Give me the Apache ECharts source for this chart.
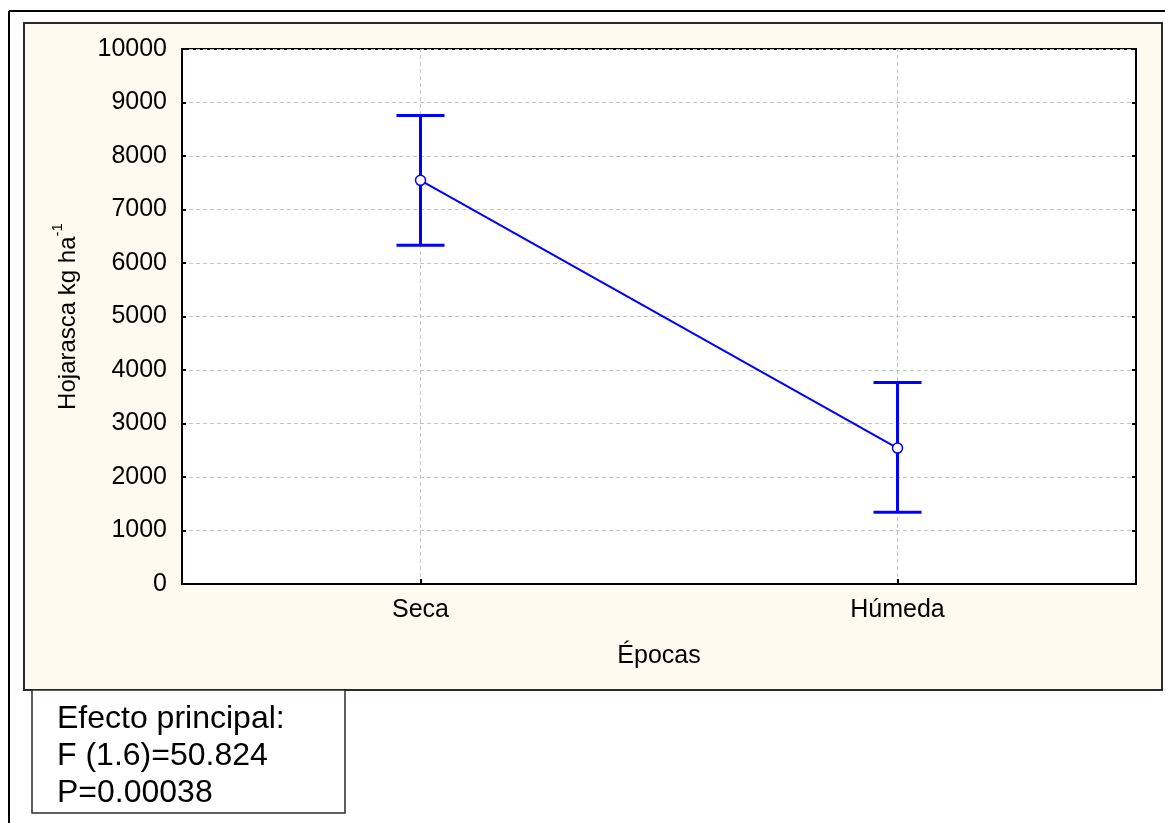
<!DOCTYPE html>
<html>
<head>
<meta charset="utf-8">
<script src="https://cdn.jsdelivr.net/npm/echarts@6/dist/echarts.min.js"></script>
<style>
html,body{margin:0;padding:0;background:#ffffff;}
#chart{width:1165px;height:823px;}
</style>
</head>
<body>
<div id="chart"></div>
<script>
var categories = ['Seca', 'Húmeda'];
var means = [7545, 2540];
var upper = [8755, 3765];
var lower = [6330, 1340];
var yTicks = [0, 10000, 1000];
var xAxisName = 'Épocas';
var yAxisName = 'Hojarasca kg ha';
var yAxisSup = '-1';
var noteLines = ['Efecto principal:', 'F (1.6)=50.824', 'P=0.00038'];

var FONT = '"Liberation Sans", Arial, sans-serif';
var BLUE = '#0000ff';

var errData = categories.map(function (c, i) { return [i, lower[i], upper[i]]; });

var chart = echarts.init(document.getElementById('chart'), null, {renderer: 'canvas'});

var graphics = [
  {type: 'line', shape: {x1: 9, y1: 11, x2: 1165, y2: 11}, style: {stroke: '#000', lineWidth: 2}, z: -10},
  {type: 'line', shape: {x1: 9, y1: 11, x2: 9, y2: 823}, style: {stroke: '#000', lineWidth: 2}, z: -10},
  {type: 'rect', shape: {x: 24, y: 23, width: 1138, height: 667}, style: {fill: '#fffaef', stroke: '#2a2a2a', lineWidth: 2}, z: -10},
  {type: 'rect', shape: {x: 32, y: 690, width: 313, height: 123}, style: {fill: '#ffffff', stroke: '#2a2a2a', lineWidth: 1.5}, z: 10}
];
noteLines.forEach(function (t, i) {
  graphics.push({
    type: 'text', left: 57, top: 703 + i * 37, z: 11,
    style: {text: t, font: '32px ' + FONT, fill: '#000'}
  });
});

chart.setOption({
  animation: false,
  backgroundColor: '#ffffff',
  graphic: graphics,
  grid: {
    left: 182, right: 29, top: 49, bottom: 239,
    show: true, backgroundColor: '#ffffff', borderColor: '#000', borderWidth: 2
  },
  xAxis: {
    type: 'category',
    data: categories,
    boundaryGap: true,
    name: xAxisName,
    nameLocation: 'middle',
    nameGap: 60,
    nameTextStyle: {fontFamily: FONT, fontSize: 25, color: '#000'},
    axisLine: {show: true, lineStyle: {color: '#000', width: 2}},
    axisTick: {show: true, alignWithLabel: true, inside: true, length: 5, lineStyle: {color: '#000', width: 2}},
    axisLabel: {fontFamily: FONT, fontSize: 25, color: '#000', margin: 14},
    splitLine: {show: false}
  },
  yAxis: [{
    type: 'value',
    min: yTicks[0], max: yTicks[1], interval: yTicks[2],
    name: '{a|' + yAxisName + '}{s|' + yAxisSup + '}',
    nameLocation: 'middle',
    nameGap: 102,
    nameRotate: 90,
    nameTextStyle: {
      color: '#000',
      rich: {
        a: {fontFamily: FONT, fontSize: 24, color: '#000', lineHeight: 30, verticalAlign: 'bottom'},
        s: {fontFamily: FONT, fontSize: 15, color: '#000', lineHeight: 30, verticalAlign: 'top'}
      }
    },
    axisLine: {show: true, lineStyle: {color: '#000', width: 2}},
    axisTick: {show: true, inside: true, length: 4, lineStyle: {color: '#000', width: 2}},
    axisLabel: {fontFamily: FONT, fontSize: 25, color: '#000', margin: 15, formatter: function (v) { return String(v); }},
    splitLine: {show: true, lineStyle: {color: '#c4c4c4', width: 1, type: [4, 3]}}
  }, {
    type: 'value',
    position: 'right',
    min: yTicks[0], max: yTicks[1], interval: yTicks[2],
    axisLine: {show: true, lineStyle: {color: '#000', width: 2}},
    axisTick: {show: true, inside: true, length: 4, lineStyle: {color: '#000', width: 2}},
    axisLabel: {show: false},
    splitLine: {show: false}
  }],
  series: [
    {
      type: 'line',
      data: [],
      z: 0,
      silent: true,
      markLine: {
        silent: true,
        z: 0,
        symbol: 'none',
        label: {show: false},
        lineStyle: {color: '#c4c4c4', width: 1, type: [4, 3]},
        data: categories.map(function (c) { return {xAxis: c}; })
      }
    },
    {
      type: 'custom',
      z: 20,
      data: errData,
      encode: {x: 0, y: [1, 2]},
      renderItem: function (params, api) {
        var x = api.value(0);
        var lo = api.coord([x, api.value(1)]);
        var hi = api.coord([x, api.value(2)]);
        var hw = 24;
        var st = {stroke: BLUE, lineWidth: 3};
        return {
          type: 'group',
          children: [
            {type: 'line', shape: {x1: lo[0], y1: lo[1], x2: hi[0], y2: hi[1]}, style: st},
            {type: 'line', shape: {x1: hi[0] - hw, y1: hi[1], x2: hi[0] + hw, y2: hi[1]}, style: st},
            {type: 'line', shape: {x1: lo[0] - hw, y1: lo[1], x2: lo[0] + hw, y2: lo[1]}, style: st}
          ]
        };
      }
    },
    {
      type: 'line',
      z: 30,
      data: means,
      symbol: 'circle',
      symbolSize: 10,
      showAllSymbol: true,
      lineStyle: {color: BLUE, width: 2},
      itemStyle: {color: '#ffffff', borderColor: BLUE, borderWidth: 1.5}
    }
  ]
});
</script>
</body>
</html>
